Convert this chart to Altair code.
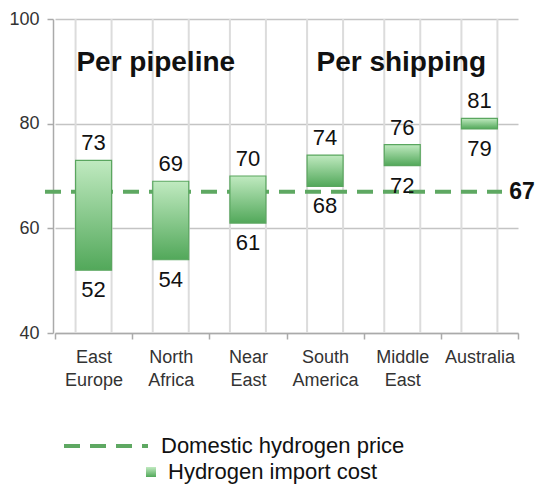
import altair as alt
import pandas as pd

# Import cost ranges per supply region (low / high), and the domestic price level
regions = ["East Europe", "North Africa", "Near East", "South America", "Middle East", "Australia"]
cost_low = [52, 54, 61, 68, 72, 79]
cost_high = [73, 69, 70, 74, 76, 81]
domestic_price = 67
route_labels = ["Per pipeline", "Per shipping"]
route_anchor = ["North Africa", "Middle East"]

FONT = "Liberation Sans"
GREEN = "#5ea862"

bars = pd.DataFrame({"region": regions, "low": cost_low, "high": cost_high,
                     "kind": "Hydrogen import cost"})
dom = pd.DataFrame({"value": [domestic_price], "kind": ["Domestic hydrogen price"]})

x_enc = alt.X(
    "region:N", sort=regions,
    scale=alt.Scale(paddingInner=0, paddingOuter=0),
    axis=alt.Axis(title=None, labelAngle=0, tickBand="extent",
                  labelExpr="split(datum.label, ' ')", labelLineHeight=23,
                  labelFontSize=18, labelColor="#333", labelFont=FONT,
                  labelPadding=9, domainColor="#aaa", domainWidth=1.5,
                  tickColor="#aaa", tickWidth=1.5, tickSize=6, grid=False),
)
y_scale = alt.Scale(domain=[40, 100], nice=False, zero=False)

base = alt.Chart(bars)

# light vertical guides at each bar's edges
guides = [
    base.mark_rule(color="#dcdcdc", strokeWidth=2, xOffset=off).encode(
        x=x_enc,
        y=alt.datum(40, scale=y_scale),
        y2=alt.datum(100),
    )
    for off in (-18, 18)
]

axis_layer = base.mark_rule(opacity=0).encode(
    x=x_enc,
    y=alt.Y("high:Q", scale=y_scale,
            axis=alt.Axis(title=None, values=[40, 60, 80, 100], grid=True,
                          gridColor="#c4c4c4", gridWidth=1.5, offset=2,
                          domainColor="#aaa", domainWidth=1.5,
                          tickColor="#aaa", tickWidth=1.5, tickSize=6,
                          labelFontSize=18, labelColor="#333", labelFont=FONT,
                          labelPadding=8)),
)

dash_line = alt.Chart(dom).mark_rule(color=GREEN, strokeWidth=4).encode(
    y=alt.Y("value:Q", scale=y_scale),
    x=alt.value(-10),
    x2=alt.value(447),
    strokeDash=alt.StrokeDash(
        "kind:N",
        scale=alt.Scale(domain=["Domestic hydrogen price"], range=[[16, 10]]),
        legend=alt.Legend(title=None, orient="none", legendX=7, legendY=383,
                          symbolType="stroke", symbolSize=7056,
                          symbolStrokeColor=GREEN, symbolStrokeWidth=4,
                          labelFontSize=22, labelFont=FONT, labelColor="#111",
                          labelOffset=11, labelLimit=0, padding=0),
    ),
)

dash_value = alt.Chart(dom).mark_text(
    font=FONT, fontSize=23, fontWeight="bold", align="center", baseline="middle",
    color="#111",
).encode(
    y=alt.Y("value:Q", scale=y_scale),
    x=alt.value(467),
    text=alt.Text("value:Q"),
)

gradient = alt.Gradient(
    gradient="linear",
    stops=[alt.GradientStop(color="#c0eac0", offset=0),
           alt.GradientStop(color="#52a85a", offset=1)],
    x1=0, x2=0, y1=0, y2=1,
)

cost_bars = base.mark_bar(size=36, fill=gradient, stroke="#5aa65f",
                          strokeWidth=1.2).encode(
    x=x_enc,
    y=alt.Y("low:Q", scale=y_scale),
    y2="high:Q",
    opacity=alt.Opacity(
        "kind:N",
        scale=alt.Scale(domain=["Hydrogen import cost"], range=[1]),
        legend=alt.Legend(title=None, orient="none", legendX=85, legendY=442,
                          symbolType="square", symbolSize=100,
                          symbolFillColor="#6fbe74", symbolStrokeColor="#6fbe74",
                          symbolStrokeWidth=0, symbolOpacity=1,
                          labelFontSize=22, labelFont=FONT, labelColor="#111",
                          labelOffset=6, labelLimit=0, padding=0),
    ),
)

top_labels = base.mark_text(font=FONT, fontSize=22, baseline="middle",
                            dy=-17, color="#111").encode(
    x=x_enc, y=alt.Y("high:Q", scale=y_scale), text="high:Q")
bottom_labels = base.mark_text(font=FONT, fontSize=22, baseline="middle",
                               dy=20, color="#111").encode(
    x=x_enc, y=alt.Y("low:Q", scale=y_scale), text="low:Q")


def route_title(i, shift):
    return alt.Chart(pd.DataFrame({"label": [route_labels[i]],
                                   "region": [route_anchor[i]]})).mark_text(
        font=FONT, fontSize=28, fontWeight="bold", baseline="middle",
        color="#111", dx=shift,
    ).encode(
        x=x_enc,
        y=alt.datum(91.5, scale=y_scale),
        text="label:N",
    )


chart = alt.layer(
    *guides, axis_layer, dash_line, cost_bars, top_labels, bottom_labels,
    dash_value, route_title(0, -15), route_title(1, -1),
).properties(
    width=463, height=314,
    autosize=alt.AutoSizeParams(type="none"),
    padding={"left": 55, "top": 19, "right": 19, "bottom": 155},
).configure_view(stroke=None)

chart.save("out.html", embed_options={"renderer": "svg", "actions": False})
